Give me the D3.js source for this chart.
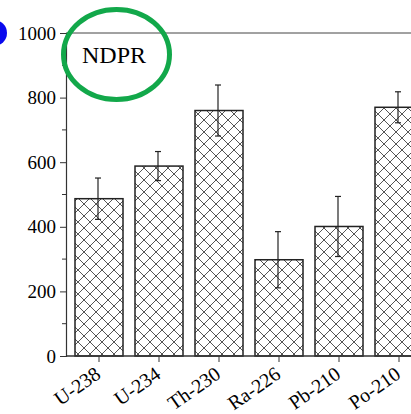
<!DOCTYPE html>
<html>
<head>
<meta charset="utf-8">
<script src="https://cdn.jsdelivr.net/npm/d3@7"></script>
<style>
  body { margin: 0; background: #fff; }
  svg { display: block; }
</style>
</head>
<body>
<div id="chart"></div>
<script>
const W = 411, H = 414;
const nuclides = ["U-238", "U-234", "Th-230", "Ra-226", "Pb-210", "Po-210"];
const means = [487, 588, 760, 298, 401, 770];
const errors = [64, 45, 79, 87, 93, 48];
const yTicks = [0, 200, 400, 600, 800, 1000];
const yMinor = [100, 300, 500, 700, 900];

const AXIS_X = 66, AXIS_Y0 = 356, AXIS_Y1 = 33;
const SERIF = "'Liberation Serif', 'DejaVu Serif', serif";

const svg = d3.select("#chart").append("svg")
  .attr("width", W).attr("height", H)
  .attr("font-family", SERIF);

// crosshatch pattern
const pat = svg.append("defs").append("pattern")
  .attr("id", "hatch")
  .attr("patternUnits", "userSpaceOnUse")
  .attr("width", 12).attr("height", 12);
pat.append("path")
  .attr("d", "M0,0L12,12M12,0L0,12M-1,11L1,13M11,-1L13,1")
  .attr("stroke", "#555").attr("stroke-width", 1).attr("fill", "none");

const x = d3.scaleBand()
  .domain(nuclides)
  .range([69, 429])
  .paddingInner(0.2)
  .paddingOuter(0.1);

const y = d3.scaleLinear().domain([0, 1000]).range([AXIS_Y0, AXIS_Y1]);

// top frame line
svg.append("line")
  .attr("x1", AXIS_X).attr("x2", W)
  .attr("y1", y(1000)).attr("y2", y(1000))
  .attr("stroke", "#444").attr("stroke-width", 1);

// bars
svg.selectAll("rect.bar").data(nuclides).enter().append("rect")
  .attr("class", "bar")
  .attr("x", d => x(d))
  .attr("y", (d, i) => y(means[i]))
  .attr("width", x.bandwidth())
  .attr("height", (d, i) => y(0) - y(means[i]))
  .attr("fill", "url(#hatch)")
  .attr("stroke", "#222")
  .attr("stroke-width", 1.5);

// error bars
const eb = svg.selectAll("g.err").data(nuclides).enter().append("g")
  .attr("class", "err")
  .attr("transform", d => `translate(${x(d) + x.bandwidth() / 2 - 1},0)`);
eb.append("line")
  .attr("y1", (d, i) => y(means[i] + errors[i]))
  .attr("y2", (d, i) => y(means[i] - errors[i]))
  .attr("stroke", "#222").attr("stroke-width", 1.2);
eb.append("line")
  .attr("x1", -3).attr("x2", 3)
  .attr("y1", (d, i) => y(means[i] + errors[i]))
  .attr("y2", (d, i) => y(means[i] + errors[i]))
  .attr("stroke", "#222").attr("stroke-width", 1.2);
eb.append("line")
  .attr("x1", -3).attr("x2", 3)
  .attr("y1", (d, i) => y(means[i] - errors[i]))
  .attr("y2", (d, i) => y(means[i] - errors[i]))
  .attr("stroke", "#222").attr("stroke-width", 1.2);

// y axis
const yAxis = svg.append("g").attr("transform", `translate(${AXIS_X},0)`)
  .call(d3.axisLeft(y).tickValues(yTicks).tickSize(6).tickPadding(4).tickFormat(d3.format("d")));
yAxis.attr("font-family", SERIF);
yAxis.select(".domain").attr("stroke", "#333").attr("stroke-width", 1.2);
yAxis.selectAll(".tick line").attr("stroke", "#333");
yAxis.selectAll("text").attr("font-size", 19).attr("fill", "#000");
yAxis.selectAll("line.minor").data(yMinor).enter().append("line")
  .attr("class", "minor")
  .attr("x1", -4).attr("x2", 0)
  .attr("y1", d => y(d)).attr("y2", d => y(d))
  .attr("stroke", "#333");

// x axis
svg.append("line")
  .attr("x1", AXIS_X).attr("x2", W)
  .attr("y1", AXIS_Y0).attr("y2", AXIS_Y0)
  .attr("stroke", "#333").attr("stroke-width", 1.5);
svg.selectAll("line.xt").data(nuclides).enter().append("line")
  .attr("class", "xt")
  .attr("x1", d => x(d) + x.bandwidth() / 2)
  .attr("x2", d => x(d) + x.bandwidth() / 2)
  .attr("y1", AXIS_Y0).attr("y2", AXIS_Y0 + 6)
  .attr("stroke", "#333");
svg.selectAll("text.xl").data(nuclides).enter().append("text")
  .attr("class", "xl")
  .attr("transform", d => `translate(${x(d) + x.bandwidth() / 2 + 3},${AXIS_Y0 + 21}) rotate(-35)`)
  .attr("text-anchor", "end")
  .attr("font-size", 20)
  .text(d => d);

// annotation
svg.append("text")
  .attr("x", 82).attr("y", 63)
  .attr("font-size", 24)
  .text("NDPR");
svg.append("ellipse")
  .attr("cx", 116.5).attr("cy", 54.5)
  .attr("rx", 53).attr("ry", 45)
  .attr("fill", "none")
  .attr("stroke", "#12a84a").attr("stroke-width", 5);

// blue marker at left edge
svg.append("circle")
  .attr("cx", -6).attr("cy", 33).attr("r", 13)
  .attr("fill", "#0a0aee");
</script>
</body>
</html>
